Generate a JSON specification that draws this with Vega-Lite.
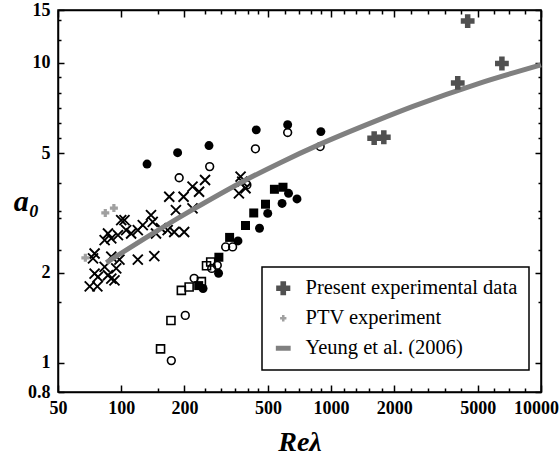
{
  "$schema": "https://vega.github.io/schema/vega-lite/v6.json",
  "width": 483,
  "height": 382,
  "autosize": "none",
  "padding": {"left": 58, "top": 10, "right": 19, "bottom": 73},
  "background": "white",
  "config": {
    "view": {"stroke": "black", "strokeWidth": 1.5},
    "font": "Liberation Serif",
    "axis": {
      "domainColor": "black", "domainWidth": 1.5, "tickColor": "black", "tickWidth": 1.5,
      "labelFont": "Liberation Serif", "labelFontWeight": "bold", "labelFontSize": 18, "labelColor": "black",
      "grid": false, "labelOverlap": false, "labelFlush": false, "titleColor": "black"
    },
    "legend": {
      "orient": "none", "legendX": 204, "legendY": 257, "title": null,
      "strokeColor": "black", "strokeWidth": 1.5, "fillColor": "white", "padding": 11,
      "rowPadding": 9, "labelFont": "Liberation Serif", "labelFontSize": 20.5, "labelColor": "black",
      "labelOffset": 12, "symbolSize": 190, "labelLimit": 400
    }
  },
  "datasets": {
    "cross": [
      {"Re": 169.4, "a0": 3.58}, {"Re": 198.2, "a0": 3.58}, {"Re": 235, "a0": 3.72}, {"Re": 182.3, "a0": 3.23},
      {"Re": 218.7, "a0": 3.275}, {"Re": 138.7, "a0": 3.11}, {"Re": 141.3, "a0": 2.95}, {"Re": 100, "a0": 2.99},
      {"Re": 103.7, "a0": 2.99}, {"Re": 126.7, "a0": 2.88}, {"Re": 120, "a0": 2.77}, {"Re": 111.5, "a0": 2.7},
      {"Re": 105.6, "a0": 2.77}, {"Re": 96.5, "a0": 2.665}, {"Re": 86.5, "a0": 2.7}, {"Re": 83.4, "a0": 2.565},
      {"Re": 89.7, "a0": 2.6}, {"Re": 154.7, "a0": 2.81}, {"Re": 166.5, "a0": 2.77}, {"Re": 178.9, "a0": 2.73},
      {"Re": 199.5, "a0": 2.73}, {"Re": 146.5, "a0": 2.7}, {"Re": 74.7, "a0": 2.315}, {"Re": 73.4, "a0": 2.23},
      {"Re": 89.7, "a0": 2.26}, {"Re": 98.1, "a0": 2.21}, {"Re": 120, "a0": 2.21}, {"Re": 143.8, "a0": 2.27},
      {"Re": 83.4, "a0": 2.09}, {"Re": 94.7, "a0": 2.065}, {"Re": 74.7, "a0": 1.985}, {"Re": 77.5, "a0": 1.935},
      {"Re": 86.5, "a0": 1.96}, {"Re": 89.7, "a0": 1.91}, {"Re": 92.9, "a0": 1.885}, {"Re": 70.8, "a0": 1.8},
      {"Re": 77.0, "a0": 1.8}, {"Re": 250.9, "a0": 4.07}, {"Re": 370.5, "a0": 4.175}, {"Re": 363.7, "a0": 3.675},
      {"Re": 391.2, "a0": 3.82}, {"Re": 377.4, "a0": 4.02}, {"Re": 218.7, "a0": 3.87}
    ],
    "filledCircle": [
      {"Re": 132.8, "a0": 4.6}, {"Re": 185.7, "a0": 5.02}, {"Re": 262, "a0": 5.3}, {"Re": 440, "a0": 5.98},
      {"Re": 621, "a0": 6.22}, {"Re": 894, "a0": 5.9}, {"Re": 627, "a0": 3.675}, {"Re": 688, "a0": 3.52},
      {"Re": 584, "a0": 3.4}, {"Re": 499, "a0": 3.15}, {"Re": 456, "a0": 2.81}, {"Re": 360, "a0": 2.55},
      {"Re": 291, "a0": 1.99}, {"Re": 245.5, "a0": 1.77}
    ],
    "openCircle": [
      {"Re": 188.9, "a0": 4.14}, {"Re": 264, "a0": 4.51}, {"Re": 436, "a0": 5.17}, {"Re": 621, "a0": 5.86},
      {"Re": 887, "a0": 5.26}, {"Re": 397, "a0": 3.92}, {"Re": 314.5, "a0": 2.435}, {"Re": 339.5, "a0": 2.435},
      {"Re": 287, "a0": 2.115}, {"Re": 270, "a0": 2.065}, {"Re": 222.6, "a0": 1.914}, {"Re": 202, "a0": 1.44},
      {"Re": 173.3, "a0": 1.018}
    ],
    "filledSquare": [
      {"Re": 537, "a0": 3.79}, {"Re": 590, "a0": 3.85}, {"Re": 487, "a0": 3.38}, {"Re": 428, "a0": 3.16},
      {"Re": 391, "a0": 2.87}, {"Re": 328.5, "a0": 2.62}, {"Re": 292, "a0": 2.25}, {"Re": 234, "a0": 1.81}
    ],
    "openSquare": [
      {"Re": 193.5, "a0": 1.745}, {"Re": 210.7, "a0": 1.79}, {"Re": 241, "a0": 1.866}, {"Re": 255, "a0": 2.107},
      {"Re": 267, "a0": 2.17}, {"Re": 172.6, "a0": 1.385}, {"Re": 154, "a0": 1.114}
    ],
    "present": [
      {"Re": 4474, "a0": 13.78, "series": "Present experimental data"},
      {"Re": 6513, "a0": 9.95, "series": "Present experimental data"},
      {"Re": 4012, "a0": 8.57, "series": "Present experimental data"},
      {"Re": 1604, "a0": 5.61, "series": "Present experimental data"},
      {"Re": 1783, "a0": 5.65, "series": "Present experimental data"}
    ],
    "ptv": [
      {"Re": 84, "a0": 3.16, "series": "PTV experiment"},
      {"Re": 92.3, "a0": 3.28, "series": "PTV experiment"},
      {"Re": 67.5, "a0": 2.24, "series": "PTV experiment"}
    ],
    "yeung": [
      {"Re": 85, "a0": 2.16, "series": "Yeung et al. (2006)"},
      {"Re": 155, "a0": 2.81, "series": "Yeung et al. (2006)"},
      {"Re": 222, "a0": 3.26, "series": "Yeung et al. (2006)"},
      {"Re": 384, "a0": 4.04, "series": "Yeung et al. (2006)"},
      {"Re": 573, "a0": 4.65, "series": "Yeung et al. (2006)"},
      {"Re": 888, "a0": 5.36, "series": "Yeung et al. (2006)"},
      {"Re": 1604, "a0": 6.37, "series": "Yeung et al. (2006)"},
      {"Re": 2456, "a0": 7.16, "series": "Yeung et al. (2006)"},
      {"Re": 5073, "a0": 8.55, "series": "Yeung et al. (2006)"},
      {"Re": 10000, "a0": 9.85, "series": "Yeung et al. (2006)"}
    ]
  },
  "layer": [
    {
      "data": {"name": "cross"},
      "mark": {"type": "point", "shape": "M-1,-1L1,1M-1,1L1,-1", "filled": false, "stroke": "black", "strokeWidth": 1.9, "size": 100, "opacity": 1},
      "encoding": {
        "x": {"field": "Re", "type": "quantitative", "scale": {"type": "log", "domain": [50, 10000], "nice": false},
          "axis": {"orient": "bottom",
            "values": [50, 100, 150, 200, 250, 300, 350, 400, 450, 500, 600, 700, 800, 900, 1000, 1150, 1320, 1516, 1741, 2000, 2400, 2890, 3470, 4160, 5000, 5950, 7070, 8410, 10000],
            "labelExpr": "indexof([50,100,200,500,1000,2000,5000,10000], datum.value) >= 0 ? datum.value : ''",
            "tickSize": {"condition": {"test": "indexof([50,100,200,500,1000,2000,5000,10000], datum.value) >= 0", "value": -7}, "value": -4},
            "labelOffset": {"condition": {"test": "datum.value === 10000", "value": -5}, "value": 0},
            "labelPadding": 14,
            "title": "Reλ", "titleFont": "Liberation Serif", "titleFontSize": 28, "titleFontStyle": "italic", "titleFontWeight": "bold",
            "titleY": 58, "titleBaseline": "alphabetic"}},
        "y": {"field": "a0", "type": "quantitative", "scale": {"type": "log", "domain": [0.8, 15], "nice": false},
          "axis": {"orient": "left",
            "values": [0.8, 1, 1.59, 2, 2.37, 3.03, 3.21, 3.99, 5, 5.61, 6.3, 7.07, 7.94, 8.98, 10, 11.96, 13.88, 15],
            "labelExpr": "indexof([0.8,1,2,5,10,15], datum.value) >= 0 ? datum.value : ''",
            "tickSize": {"condition": {"test": "indexof([0.8,1,2,5,10,15], datum.value) >= 0", "value": -6}, "value": -3},
            "labelPadding": 14,
            "title": "a₀", "titleFont": "Liberation Serif", "titleFontSize": 30, "titleFontStyle": "italic", "titleFontWeight": "bold",
            "titleAngle": 0, "titleX": -32, "titleY": 200, "titleAlign": "center", "titleBaseline": "alphabetic"}}
      }
    },
    {
      "data": {"name": "filledCircle"},
      "mark": {"type": "point", "shape": "circle", "filled": true, "color": "black", "size": 80, "opacity": 1},
      "encoding": {
        "x": {"field": "Re", "type": "quantitative", "scale": {"type": "log", "domain": [50, 10000], "nice": false},
          "axis": {"orient": "top", "labels": false, "title": null,
            "values": [50, 100, 150, 200, 250, 300, 350, 400, 450, 500, 600, 700, 800, 900, 1000, 1150, 1320, 1516, 1741, 2000, 2400, 2890, 3470, 4160, 5000, 5950, 7070, 8410, 10000],
            "tickSize": {"condition": {"test": "indexof([50,100,200,500,1000,2000,5000,10000], datum.value) >= 0", "value": -7}, "value": -4}}},
        "y": {"field": "a0", "type": "quantitative", "scale": {"type": "log", "domain": [0.8, 15], "nice": false},
          "axis": {"orient": "right", "labels": false, "title": null,
            "values": [0.8, 1, 1.59, 2, 2.37, 3.03, 3.21, 3.99, 5, 5.61, 6.3, 7.07, 7.94, 8.98, 10, 11.96, 13.88, 15],
            "tickSize": {"condition": {"test": "indexof([0.8,1,2,5,10,15], datum.value) >= 0", "value": -6}, "value": -3}}}
      }
    },
    {
      "data": {"name": "openCircle"},
      "mark": {"type": "point", "shape": "circle", "filled": false, "stroke": "black", "strokeWidth": 1.6, "size": 60, "opacity": 1},
      "encoding": {
        "x": {"field": "Re", "type": "quantitative", "scale": {"type": "log", "domain": [50, 10000], "nice": false}, "axis": null},
        "y": {"field": "a0", "type": "quantitative", "scale": {"type": "log", "domain": [0.8, 15], "nice": false}, "axis": null}
      }
    },
    {
      "data": {"name": "filledSquare"},
      "mark": {"type": "point", "shape": "square", "filled": true, "color": "black", "size": 81, "opacity": 1},
      "encoding": {
        "x": {"field": "Re", "type": "quantitative", "scale": {"type": "log", "domain": [50, 10000], "nice": false}, "axis": null},
        "y": {"field": "a0", "type": "quantitative", "scale": {"type": "log", "domain": [0.8, 15], "nice": false}, "axis": null}
      }
    },
    {
      "data": {"name": "openSquare"},
      "mark": {"type": "point", "shape": "square", "filled": false, "stroke": "black", "strokeWidth": 1.6, "size": 64, "opacity": 1},
      "encoding": {
        "x": {"field": "Re", "type": "quantitative", "scale": {"type": "log", "domain": [50, 10000], "nice": false}, "axis": null},
        "y": {"field": "a0", "type": "quantitative", "scale": {"type": "log", "domain": [0.8, 15], "nice": false}, "axis": null}
      }
    },
    {
      "data": {"name": "yeung"},
      "mark": {"type": "line", "strokeWidth": 5, "interpolate": "monotone"},
      "encoding": {
        "x": {"field": "Re", "type": "quantitative", "scale": {"type": "log", "domain": [50, 10000], "nice": false}, "axis": null},
        "y": {"field": "a0", "type": "quantitative", "scale": {"type": "log", "domain": [0.8, 15], "nice": false}, "axis": null},
        "color": {"field": "series", "type": "nominal",
          "scale": {"domain": ["Present experimental data", "PTV experiment", "Yeung et al. (2006)"], "range": ["#505050", "#a0a0a0", "#808080"]},
          "legend": {"encode": {"symbols": {"update": {
            "shape": {"signal": "datum.value === 'Yeung et al. (2006)' ? 'stroke' : 'cross'"},
            "size": {"signal": "datum.value === 'PTV experiment' ? 40 : (datum.value === 'Yeung et al. (2006)' ? 220 : 200)"},
            "strokeWidth": {"signal": "datum.value === 'Yeung et al. (2006)' ? 5 : 0"},
            "fill": {"signal": "datum.value === 'Present experimental data' ? '#505050' : (datum.value === 'PTV experiment' ? '#a0a0a0' : '#808080')"},
            "stroke": {"signal": "datum.value === 'Present experimental data' ? '#505050' : (datum.value === 'PTV experiment' ? '#a0a0a0' : '#808080')"},
            "opacity": {"value": 1}, "fillOpacity": {"value": 1}, "strokeOpacity": {"value": 1}
          }}}}}
      }
    },
    {
      "data": {"name": "present"},
      "mark": {"type": "point", "shape": "cross", "filled": true, "size": 190, "opacity": 1},
      "encoding": {
        "x": {"field": "Re", "type": "quantitative", "scale": {"type": "log", "domain": [50, 10000], "nice": false}, "axis": null},
        "y": {"field": "a0", "type": "quantitative", "scale": {"type": "log", "domain": [0.8, 15], "nice": false}, "axis": null},
        "color": {"field": "series", "type": "nominal",
          "scale": {"domain": ["Present experimental data", "PTV experiment", "Yeung et al. (2006)"], "range": ["#505050", "#a0a0a0", "#808080"]}}
      }
    },
    {
      "data": {"name": "ptv"},
      "mark": {"type": "point", "shape": "cross", "filled": true, "size": 64, "opacity": 1},
      "encoding": {
        "x": {"field": "Re", "type": "quantitative", "scale": {"type": "log", "domain": [50, 10000], "nice": false}, "axis": null},
        "y": {"field": "a0", "type": "quantitative", "scale": {"type": "log", "domain": [0.8, 15], "nice": false}, "axis": null},
        "color": {"field": "series", "type": "nominal",
          "scale": {"domain": ["Present experimental data", "PTV experiment", "Yeung et al. (2006)"], "range": ["#505050", "#a0a0a0", "#808080"]}}
      }
    }
  ],
  "resolve": {"axis": {"x": "independent", "y": "independent"}}
}
